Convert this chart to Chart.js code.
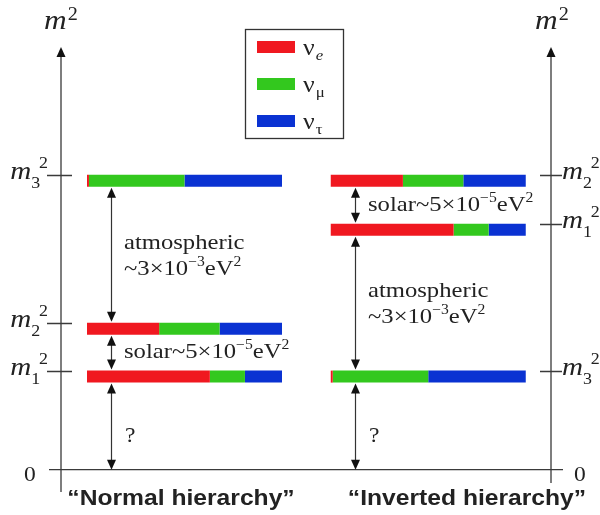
<!DOCTYPE html>
<html>
<head>
<meta charset="utf-8">
<script src="https://cdn.jsdelivr.net/npm/chart.js"></script>
<style>
  html, body { margin: 0; padding: 0; background: #fff; }
  #wrap { width: 600px; height: 515px; }
</style>
</head>
<body>
<div id="wrap"><canvas id="grafica" width="600" height="515"></canvas></div>
<script>
// mass states, in the order m1, m2, m3
const estados = ['1', '2', '3']
// flavour content of each mass state (fraction of the bar)
const sabores = ['e', 'μ', 'τ']
const nuE = [0.63, 0.37, 0.01]
const nuMu = [0.18, 0.31, 0.49]
const nuTau = [0.19, 0.32, 0.50]
const colores = ['#f01820', '#33c81e', '#0a32d2']
// m^2 levels (arbitrary units, 0 = the floor line)
const nivelesNormal = [0.95, 1.44, 2.95]
const nivelesInvertido = [2.45, 2.95, 0.95]
// gaps drawn with double arrows: [lower state, upper state, label]  (-1 = zero)
const huecosNormal = [[-1, 0, 'q'], [0, 1, 'solar'], [1, 2, 'atm']]
const huecosInvertido = [[-1, 2, 'q'], [2, 0, 'atm'], [0, 1, 'solar']]
const titulos = ['“Normal hierarchy”', '“Inverted hierarchy”']

const SERIF = '"Liberation Serif", "Times New Roman", serif'
const SANS = '"Liberation Sans", Arial, sans-serif'
const TINTA = '#222'
const sx = 1.12          // the original lettering is a bit wide
const media = 6          // half bar thickness in px
const inicioGrupo = [0, 1.25]
const flechaX = 0.125

const fracciones = [nuE, nuMu, nuTau]

function armarDatasets() {
    const ds = []
    const grupos = [nivelesNormal, nivelesInvertido]
    grupos.forEach((niveles, g) => {
        for (let i = 0; i < estados.length; i++) {
            let x0 = inicioGrupo[g]
            for (let f = 0; f < sabores.length; f++) {
                const x1 = x0 + fracciones[f][i]
                ds.push({
                    label: 'ν' + sabores[f] + ' m' + estados[i],
                    data: [{x: x0, y: niveles[i]}, {x: x1, y: niveles[i]}],
                    borderColor: colores[f],
                    backgroundColor: colores[f],
                    borderWidth: media * 2,
                    borderCapStyle: 'butt',
                    pointRadius: 0,
                    showLine: true,
                    clip: false
                })
                x0 = x1
            }
        }
    })
    return ds
}

// text made of runs: [text, font, dy, dx]
function rico(ctx, x, y, partes, alinear) {
    let w = 0
    const anchos = partes.map(p => {
        ctx.font = p[1]
        const a = ctx.measureText(p[0]).width + (p[3] || 0)
        w += a
        return a
    })
    ctx.save()
    ctx.translate(x, y)
    ctx.scale(sx, 1)
    ctx.fillStyle = TINTA
    ctx.textBaseline = 'alphabetic'
    ctx.textAlign = 'left'
    let cx = alinear === 'right' ? -w : alinear === 'center' ? -w / 2 : 0
    partes.forEach((p, k) => {
        ctx.font = p[1]
        ctx.fillText(p[0], cx + (p[3] || 0), p[2] || 0)
        cx += anchos[k]
    })
    ctx.restore()
}

function puntaArriba(ctx, x, y) {
    ctx.beginPath()
    ctx.moveTo(x, y)
    ctx.lineTo(x - 4.5, y + 10)
    ctx.lineTo(x + 4.5, y + 10)
    ctx.closePath()
    ctx.fill()
}
function puntaAbajo(ctx, x, y) {
    ctx.beginPath()
    ctx.moveTo(x, y)
    ctx.lineTo(x - 4.5, y - 10)
    ctx.lineTo(x + 4.5, y - 10)
    ctx.closePath()
    ctx.fill()
}

function etiquetaM(ctx, x, y, sub, alinear) {
    rico(ctx, x, y, [
        ['m', 'italic 26px ' + SERIF, 2],
        [sub, '16px ' + SERIF, 11],
        ['2', '16px ' + SERIF, -9, -1]
    ], alinear)
}

const diagrama = {
    id: 'diagrama',
    beforeDraw(chart) {
        const ctx = chart.ctx
        ctx.save()
        ctx.fillStyle = '#fff'
        ctx.fillRect(0, 0, chart.width, chart.height)
        ctx.restore()
    },
    beforeDatasetsDraw(chart) {
        const ctx = chart.ctx
        const xs = chart.scales.x, ys = chart.scales.y
        const y0 = ys.getPixelForValue(0)
        ctx.save()
        ctx.strokeStyle = '#3a3a3a'
        ctx.fillStyle = '#111'
        ctx.lineWidth = 1.3
        // floor line and the two m^2 axes
        ctx.beginPath()
        ctx.moveTo(49, y0); ctx.lineTo(563, y0)
        ctx.moveTo(61, 56); ctx.lineTo(61, 492)
        ctx.moveTo(551, 56); ctx.lineTo(551, 483)
        ctx.stroke()
        puntaArriba(ctx, 61, 47)
        puntaArriba(ctx, 551, 47)
        // ticks at the top edge of each bar
        ctx.beginPath()
        nivelesNormal.forEach(v => {
            const y = Math.round(ys.getPixelForValue(v) - media) + 0.5
            ctx.moveTo(47, y); ctx.lineTo(72, y)
        })
        nivelesInvertido.forEach(v => {
            const y = Math.round(ys.getPixelForValue(v) - media) + 0.5
            ctx.moveTo(540, y); ctx.lineTo(562, y)
        })
        ctx.stroke()
        ctx.restore()

        nivelesNormal.forEach((v, i) => {
            etiquetaM(ctx, 48, ys.getPixelForValue(v) - media + 2, estados[i], 'right')
        })
        nivelesInvertido.forEach((v, i) => {
            etiquetaM(ctx, 562, ys.getPixelForValue(v) - media + 2, estados[i], 'left')
        })
        rico(ctx, 61, 29, [['m', 'italic 28px ' + SERIF, 0], ['2', '18px ' + SERIF, -9, 1]], 'center')
        rico(ctx, 552, 29, [['m', 'italic 28px ' + SERIF, 0], ['2', '18px ' + SERIF, -9, 1]], 'center')
        rico(ctx, 30, y0 + 11, [['0', '21px ' + SERIF, 0]], 'center')
        rico(ctx, 580, y0 + 11, [['0', '21px ' + SERIF, 0]], 'center')
    },
    afterDatasetsDraw(chart) {
        const ctx = chart.ctx
        const xs = chart.scales.x, ys = chart.scales.y
        const grupos = [[nivelesNormal, huecosNormal], [nivelesInvertido, huecosInvertido]]
        grupos.forEach(([niveles, huecos], g) => {
            const x = Math.round(xs.getPixelForValue(inicioGrupo[g] + flechaX)) + 0.5
            huecos.forEach(([a, b, tipo]) => {
                const yb = a < 0 ? ys.getPixelForValue(0) : ys.getPixelForValue(niveles[a]) - media - 1
                const yt = ys.getPixelForValue(niveles[b]) + media + 1
                ctx.save()
                ctx.strokeStyle = '#333'
                ctx.fillStyle = '#111'
                ctx.lineWidth = 1.2
                ctx.beginPath()
                ctx.moveTo(x, yt + 8); ctx.lineTo(x, yb - 8)
                ctx.stroke()
                puntaArriba(ctx, x, yt)
                puntaAbajo(ctx, x, yb)
                ctx.restore()
                const mid = (yt + yb) / 2
                const tx = x + 12.5
                const f = '22px ' + SERIF, fs = '14px ' + SERIF
                if (tipo === 'atm') {
                    rico(ctx, tx, mid - 6, [['atmospheric', f, 0]])
                    rico(ctx, tx, mid + 20, [['~3×10', f, 0], ['−3', fs, -9], ['eV', f, 0], ['2', fs, -9]])
                } else if (tipo === 'solar') {
                    rico(ctx, tx, mid + 5.5, [['solar~5×10', f, 0], ['−5', fs, -9], ['eV', f, 0], ['2', fs, -9]])
                } else {
                    rico(ctx, tx + 1, mid + 15, [['?', '21px ' + SERIF, 0]])
                }
            })
        })

        // legend
        ctx.save()
        ctx.strokeStyle = '#333'
        ctx.lineWidth = 1.3
        ctx.strokeRect(245.5, 29.5, 98, 109)
        sabores.forEach((s, k) => {
            const yc = 47 + k * 37
            ctx.fillStyle = colores[k]
            ctx.fillRect(257, yc - 6, 38, 12)
            rico(ctx, 303, yc + 8, [
                ['ν', '23px ' + SERIF, 0],
                [s, (s === 'e' ? 'italic ' : '') + '15px ' + SERIF, 5, 1]
            ])
        })
        ctx.restore()

        // hierarchy names
        rico(ctx, 181, 505, [[titulos[0], 'bold 22px ' + SANS, 0]], 'center')
        rico(ctx, 467, 505, [[titulos[1], 'bold 22px ' + SANS, 0]], 'center')
    }
}

const config = {
    type: 'scatter',
    data: { datasets: armarDatasets() },
    options: {
        responsive: false,
        animation: false,
        events: [],
        layout: { padding: { top: 29, bottom: 16, left: 0, right: 0 } },
        scales: {
            x: { type: 'linear', min: -87 / 195, max: 513 / 195, display: false },
            y: { type: 'linear', min: -0.3, max: 4.5, display: false }
        },
        plugins: {
            legend: { display: false },
            tooltip: { enabled: false },
            title: { display: false }
        }
    },
    plugins: [diagrama]
}

let myChart = new Chart(document.getElementById('grafica'), config)
</script>
</body>
</html>
